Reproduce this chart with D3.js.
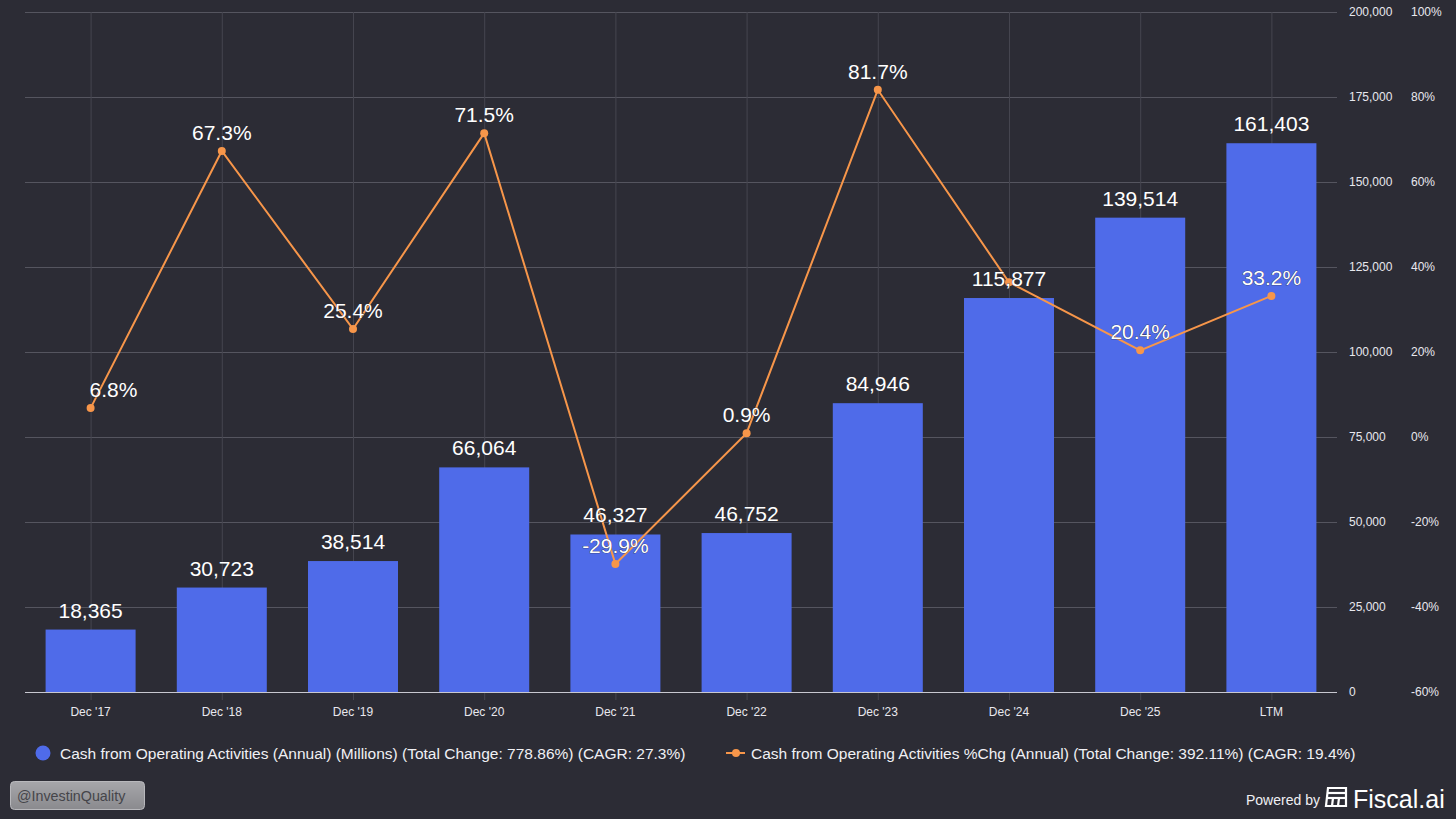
<!doctype html>
<html>
  <head>
    <script src="https://cdnjs.cloudflare.com/ajax/libs/d3/7.8.5/d3.min.js"></script>
    <style>
      html, body { margin: 0; padding: 0; background: #2c2c35; }
      svg { display: block; font-family: "Liberation Sans", Arial, sans-serif; }
    </style>
  </head>
  <body>
    <svg id="chart" width="1456" height="819"></svg>

    <script>
        // chart data
        var categories = ["Dec '17", "Dec '18", "Dec '19", "Dec '20", "Dec '21", "Dec '22", "Dec '23", "Dec '24", "Dec '25", "LTM"];
        var cashValues = [18365, 30723, 38514, 66064, 46327, 46752, 84946, 115877, 139514, 161403];
        var pctChange = [6.8, 67.3, 25.4, 71.5, -29.9, 0.9, 81.7, 36.4, 20.4, 33.2];
        // Dec '24 % label is hidden behind the bar label in the original
        var pctLabelShown = [true, true, true, true, true, true, true, false, true, true];
        var leftTicks = [0, 25000, 50000, 75000, 100000, 125000, 150000, 175000, 200000];
        var rightTicks = [-60, -40, -20, 0, 20, 40, 60, 80, 100];
        var legendLabels = [
            "Cash from Operating Activities (Annual) (Millions) (Total Change: 778.86%) (CAGR: 27.3%)",
            "Cash from Operating Activities %Chg (Annual) (Total Change: 392.11%) (CAGR: 19.4%)"
        ];

        var svg = d3.select("#chart");
        var W = 1456, H = 819;
        var plotLeft = 25, plotRight = 1337, plotTop = 12, plotBottom = 692;
        var barColor = "#4f6be9", lineColor = "#f7964a";

        svg.append("rect").attr("width", W).attr("height", H).attr("fill", "#2c2c35");

        var x = d3.scaleBand()
            .domain(categories)
            .range([plotLeft, plotRight])
            .paddingInner(0.314)
            .paddingOuter(0.157);

        var y = d3.scaleLinear().domain([0, 200000]).range([plotBottom, plotTop]);
        var y2 = d3.scaleLinear().domain([-60, 100]).range([plotBottom, plotTop]);

        var cx = d => x(d) + x.bandwidth() / 2;

        // horizontal grid
        svg.append("g").selectAll("line")
            .data(leftTicks.filter(t => t > 0))
            .enter().append("line")
                .attr("x1", plotLeft).attr("x2", plotRight)
                .attr("y1", d => y(d) + 0.5).attr("y2", d => y(d) + 0.5)
                .attr("stroke", "#55555f").attr("stroke-width", 1);

        // vertical grid
        svg.append("g").selectAll("line")
            .data(categories)
            .enter().append("line")
                .attr("x1", d => cx(d) + 0.5).attr("x2", d => cx(d) + 0.5)
                .attr("y1", plotTop).attr("y2", plotBottom + 8)
                .attr("stroke", "#45454f").attr("stroke-width", 1);

        // bars
        svg.append("g").selectAll("rect")
            .data(cashValues)
            .enter().append("rect")
                .attr("x", (d, i) => x(categories[i]))
                .attr("width", x.bandwidth())
                .attr("y", d => y(d))
                .attr("height", d => plotBottom - y(d))
                .attr("fill", barColor);

        // x axis line
        svg.append("line")
            .attr("x1", plotLeft).attr("x2", plotRight)
            .attr("y1", plotBottom + 0.5).attr("y2", plotBottom + 0.5)
            .attr("stroke", "#c8c8d0").attr("stroke-width", 1);

        // x labels
        svg.append("g").selectAll("text")
            .data(categories)
            .enter().append("text")
                .attr("x", cx)
                .attr("y", plotBottom + 24)
                .attr("text-anchor", "middle")
                .attr("font-size", 12)
                .attr("fill", "#e8e8ee")
                .text(d => d);

        // right axes labels
        svg.append("g").selectAll("text")
            .data(leftTicks)
            .enter().append("text")
                .attr("x", 1349)
                .attr("y", d => y(d) + 4)
                .attr("font-size", 12)
                .attr("fill", "#e8e8ee")
                .text(d => d3.format(",")(d));

        svg.append("g").selectAll("text")
            .data(rightTicks)
            .enter().append("text")
                .attr("x", 1411)
                .attr("y", d => y2(d) + 4)
                .attr("font-size", 12)
                .attr("fill", "#e8e8ee")
                .text(d => d + "%");

        // % change line
        var line = d3.line()
            .x((d, i) => cx(categories[i]))
            .y(d => y2(d));

        svg.append("path")
            .datum(pctChange)
            .attr("d", line)
            .attr("fill", "none")
            .attr("stroke", lineColor)
            .attr("stroke-width", 2);

        svg.append("g").selectAll("circle")
            .data(pctChange)
            .enter().append("circle")
                .attr("cx", (d, i) => cx(categories[i]))
                .attr("cy", d => y2(d))
                .attr("r", 4)
                .attr("fill", lineColor);

        // bar labels
        svg.append("g").selectAll("text")
            .data(cashValues)
            .enter().append("text")
                .attr("x", (d, i) => cx(categories[i]))
                .attr("y", d => y(d) - 12)
                .attr("text-anchor", "middle")
                .attr("font-size", 21)
                .attr("fill", "#ffffff")
                .attr("stroke", "#2c2c35").attr("stroke-width", 0.6)
                .attr("paint-order", "stroke")
                .text(d => d3.format(",")(d));

        // % labels
        svg.append("g").selectAll("text")
            .data(pctChange.map((d, i) => ({v: d, i: i})).filter(d => pctLabelShown[d.i]))
            .enter().append("text")
                .attr("x", d => d.i == 0 ? cx(categories[d.i]) - 1 : cx(categories[d.i]))
                .attr("y", d => y2(d.v) - 11)
                .attr("text-anchor", d => d.i == 0 ? "start" : "middle")
                .attr("font-size", 21)
                .attr("fill", "#ffffff")
                .attr("stroke", "#2c2c35").attr("stroke-width", 0.6)
                .attr("paint-order", "stroke")
                .text(d => d.v.toFixed(1) + "%");

        // legend
        var lg = svg.append("g");
        lg.append("circle").attr("cx", 43).attr("cy", 753).attr("r", 7.5).attr("fill", barColor);
        lg.append("text").attr("x", 60).attr("y", 758.5)
            .attr("font-size", 15.5).attr("fill", "#f0f0f4").text(legendLabels[0]);
        lg.append("line").attr("x1", 726).attr("x2", 745).attr("y1", 753).attr("y2", 753)
            .attr("stroke", lineColor).attr("stroke-width", 2);
        lg.append("circle").attr("cx", 736).attr("cy", 753).attr("r", 4).attr("fill", lineColor);
        lg.append("text").attr("x", 751).attr("y", 758.5)
            .attr("font-size", 15.5).attr("fill", "#f0f0f4").text(legendLabels[1]);

        // watermark
        var grad = svg.append("defs").append("linearGradient")
            .attr("id", "wm").attr("x1", 0).attr("x2", 0).attr("y1", 0).attr("y2", 1);
        grad.append("stop").attr("offset", "0%").attr("stop-color", "#a6a6aa");
        grad.append("stop").attr("offset", "100%").attr("stop-color", "#8a8a8e");
        svg.append("rect").attr("x", 10.5).attr("y", 781.5).attr("width", 134).attr("height", 28)
            .attr("rx", 4).attr("fill", "url(#wm)").attr("stroke", "#b8b8bc").attr("stroke-width", 1);
        svg.append("text").attr("x", 17).attr("y", 801)
            .attr("font-size", 14.3).attr("fill", "#45454a").text("@InvestinQuality");

        // powered by
        svg.append("text").attr("x", 1246).attr("y", 805)
            .attr("font-size", 14).attr("fill", "#f0f0f4").text("Powered by");
        var logo = svg.append("g").attr("transform", "translate(1325,787)")
            .attr("fill", "none").attr("stroke", "#ffffff").attr("stroke-width", 2.2);
        logo.append("path").attr("d", "M3,1 H21 V19 H1 Z");
        logo.append("line").attr("x1", 2).attr("x2", 21).attr("y1", 6).attr("y2", 6);
        logo.append("line").attr("x1", 2).attr("x2", 21).attr("y1", 11).attr("y2", 11);
        logo.append("line").attr("x1", 8).attr("x2", 7).attr("y1", 11).attr("y2", 19);
        logo.append("line").attr("x1", 14).attr("x2", 13).attr("y1", 11).attr("y2", 19);
        svg.append("text").attr("x", 1353).attr("y", 808)
            .attr("font-size", 25).attr("fill", "#ffffff").text("Fiscal.ai");
    </script>
  </body>
</html>
